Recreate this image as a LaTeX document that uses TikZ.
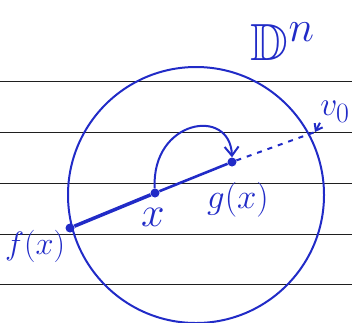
\documentclass[tikz,border=0pt]{standalone}
\usepackage{amssymb}
\usetikzlibrary{arrows.meta}
\definecolor{inkblue}{rgb}{0.13,0.17,0.78}
\definecolor{ruleline}{rgb}{0.12,0.12,0.12}

\begin{document}
\begin{tikzpicture}[x=1pt,y=-1pt,
  ink/.style={inkblue,line width=2pt},
  inkdot/.style={circle,fill=inkblue,inner sep=0pt,minimum size=9pt},
  hand/.style={inkblue,inner sep=0pt,font=\Huge}]
\useasboundingbox (0,0) rectangle (352,322);
\foreach \yy in {81,132,183,234,284}
  \draw[ruleline,line width=0.8pt] (0,\yy) -- (352,\yy);
\coordinate (ctr) at (196,195);
\draw[ink] (ctr) circle[radius=128];
\node[inkdot] (fx) at (70,228) {};
\node[inkdot] (xpt) at (155,193) {};
\node[inkdot] (gx) at (232,162) {};
\coordinate (vpt) at (315,132);
\draw[inkblue,line width=3.5pt] (fx) -- (xpt);
\draw[inkblue,line width=2.6pt] (xpt) -- (gx);
\draw[ink,dash pattern=on 5pt off 6pt] (gx) -- (vpt);
\draw[ink,-{Straight Barb[length=9pt,width=14pt]}] (xpt) .. controls (151,120) and (230,106) .. (gx.north);
\node[hand,scale=1.3] (lblfx) at (35,246) {$f(x)$};
\node[hand,scale=1.7] (lblx) at (153,217) {$x$};
\node[hand,scale=1.4] (lblgx) at (238,200) {$g(x)$};
\node[hand,scale=2.1] (lbldn) at (283,42) {$\mathbb{D}^n$};
\node[hand,scale=1.35,anchor=west] (lblv) at (320,112) {$v_0$};
\draw[ink,-{Straight Barb[length=6pt,width=9pt]}] (lblv.south west) -- (vpt);
\end{tikzpicture}
\end{document}
